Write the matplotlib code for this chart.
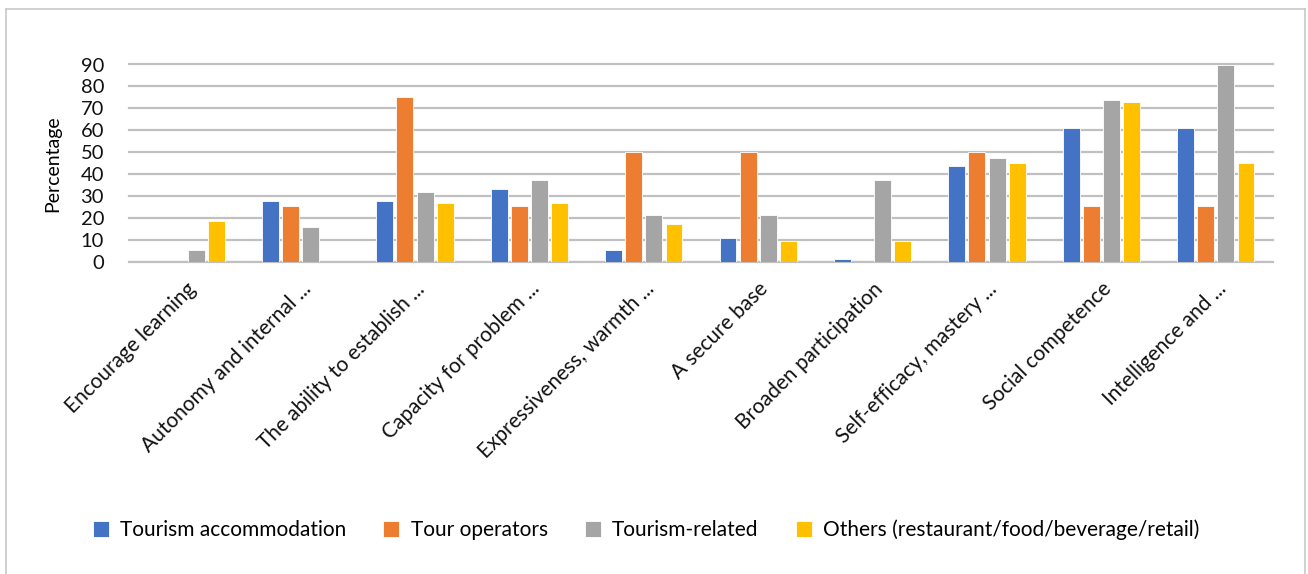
import numpy as np
import matplotlib.pyplot as plt

plt.rcParams['font.family'] = ['Lato', 'DejaVu Sans']

categories = [
    "Encourage learning",
    "Autonomy and internal ...",
    "The ability to establish ...",
    "Capacity for problem ...",
    "Expressiveness, warmth ...",
    "A secure base",
    "Broaden participation",
    "Self-efficacy, mastery ...",
    "Social competence",
    "Intelligence and ...",
]

accommodation = [0, 27.9, 27.9, 33.3, 5.6, 11.1, 1.5, 43.8, 61.1, 61.1]
tour_operators = [0, 25.3, 75.0, 25.3, 50.0, 50.0, 0, 50.0, 25.3, 25.3]
tourism_related = [5.6, 16.1, 31.9, 37.2, 21.4, 21.4, 37.2, 47.6, 73.9, 89.8]
others = [18.8, 0, 26.7, 26.7, 17.4, 9.5, 9.5, 45.1, 72.7, 45.1]

series = [
    ("Tourism accommodation", accommodation, "#4472C4"),
    ("Tour operators", tour_operators, "#ED7D31"),
    ("Tourism-related", tourism_related, "#A5A5A5"),
    ("Others (restaurant/food/beverage/retail)", others, "#FFC000"),
]

fig = plt.figure(figsize=(13.08, 5.74), dpi=100)
ax = fig.add_axes([129 / 1308, 1 - 262 / 574, (1273 - 129) / 1308, (262 - 64.5) / 574])

# thin frame around the chart (no bottom edge)
for xs, ys in [([6 / 1308, 6 / 1308], [0, 1 - 9 / 574]),
               ([6 / 1308, 1305 / 1308], [1 - 9 / 574, 1 - 9 / 574]),
               ([1305 / 1308, 1305 / 1308], [0, 1 - 9 / 574])]:
    fig.add_artist(plt.Line2D(xs, ys, color="#c8c8c8", lw=1.2, transform=fig.transFigure))

x = np.arange(len(categories))
pitch = 0.176
width = 0.148
for i, (name, vals, color) in enumerate(series):
    ax.bar(x + (i - 1.5) * pitch, vals, width, color=color, label=name,
           edgecolor="white", linewidth=0.6, zorder=3)

ax.set_xlim(-0.5, len(categories) - 0.5)
ax.set_ylim(0, 90)
ax.set_yticks(range(0, 91, 10))
ax.yaxis.grid(True, color="#c0c0c0", linewidth=1.6, zorder=0)
for gl in ax.get_ygridlines():
    gl.set_clip_on(False)
ax.set_axisbelow(True)
for s in ax.spines.values():
    s.set_visible(False)
ax.axhline(0, color="#c0c0c0", linewidth=1.6, zorder=1)
ax.tick_params(axis="both", length=0, colors="#111111")
ax.tick_params(axis="y", pad=18, labelsize=14.5)

ax.set_xticks(x)
ax.set_xticklabels(categories, rotation=45, ha="right", va="top",
                   rotation_mode="anchor", fontsize=15)
ax.tick_params(axis="x", pad=12)

ax.set_ylabel("Percentage", fontsize=14, labelpad=14)

fig.legend(loc="center", bbox_to_anchor=(0.494, 1 - 530 / 574), ncol=4,
           frameon=False, fontsize=15, handlelength=0.77, handleheight=0.77,
           columnspacing=1.8, handletextpad=0.53)

fig.savefig("out.png", dpi=100)
